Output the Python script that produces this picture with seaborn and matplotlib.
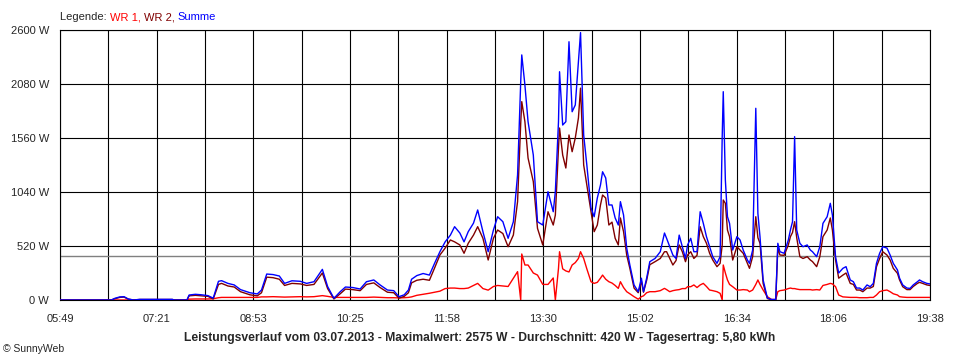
import numpy as np
import pandas as pd
import matplotlib
matplotlib.use("Agg")
import matplotlib.pyplot as plt
import seaborn as sns

zeit = [
    "05:49", "06:38", "06:41", "06:46", "06:50", "06:54", "06:59", "07:05", "07:36", "07:38",
    "07:50", "07:52", "07:58", "08:04", "08:10", "08:15", "08:20", "08:23", "08:29", "08:35",
    "08:41", "08:50", "08:57", "09:01", "09:06", "09:12", "09:18", "09:23", "09:30", "09:38",
    "09:44", "09:51", "09:59", "10:04", "10:10", "10:16", "10:21", "10:28", "10:35", "10:41",
    "10:48", "10:54", "11:01", "11:07", "11:12", "11:17", "11:21", "11:24", "11:29", "11:35",
    "11:41", "11:46", "11:51", "11:56", "12:01", "12:05", "12:10", "12:14", "12:18", "12:23",
    "12:27", "12:32", "12:37", "12:42", "12:46", "12:51", "12:56", "13:01", "13:05", "13:08",
    "13:09", "13:12", "13:15", "13:20", "13:24", "13:29", "13:34", "13:39", "13:41", "13:44",
    "13:45", "13:48", "13:51", "13:54", "13:57", "14:00", "14:03", "14:05", "14:08", "14:11",
    "14:15", "14:18", "14:21", "14:24", "14:26", "14:29", "14:32", "14:35", "14:38", "14:41",
    "14:43", "14:46", "14:49", "14:52", "14:56", "15:00", "15:03", "15:05", "15:08", "15:11",
    "15:16", "15:21", "15:25", "15:27", "15:30", "15:33", "15:36", "15:39", "15:42", "15:45",
    "15:47", "15:50", "15:53", "15:56", "15:59", "16:02", "16:05", "16:08", "16:11", "16:15",
    "16:18", "16:20", "16:21", "16:23", "16:25", "16:27", "16:30", "16:34", "16:37", "16:40",
    "16:44", "16:46", "16:49", "16:52", "16:54", "16:56", "16:59", "17:03", "17:07", "17:11",
    "17:13", "17:15", "17:19", "17:23", "17:25", "17:27", "17:29", "17:31", "17:34", "17:37",
    "17:41", "17:44", "17:46", "17:50", "17:53", "17:56", "18:00", "18:03", "18:05", "18:08",
    "18:11", "18:15", "18:18", "18:22", "18:25", "18:28", "18:31", "18:34", "18:38", "18:41",
    "18:44", "18:47", "18:50", "18:53", "18:57", "19:00", "19:03", "19:07", "19:09", "19:12",
    "19:16", "19:19", "19:22", "19:26", "19:28", "19:31", "19:35", "19:38",
]
wr1 = [
    0, 0, 0, 0, 0, 0, 0, 0, 0, 0,
    0, 8, 10, 10, 10, 12, 22, 25, 25, 25,
    25, 25, 25, 30, 30, 32, 30, 28, 30, 32,
    30, 32, 42, 35, 25, 25, 25, 25, 25, 25,
    28, 25, 22, 22, 20, 22, 25, 30, 45, 55,
    65, 75, 85, 110, 115, 115, 110, 110, 115, 140,
    160, 110, 95, 130, 140, 135, 130, 210, 273, 0,
    443, 337, 337, 260, 240, 150, 150, 212, 0, 305,
    465, 300, 280, 270, 337, 360, 400, 465, 400, 300,
    176, 160, 170, 210, 240, 200, 176, 163, 140, 112,
    176, 120, 80, 60, 32, 8, 32, 40, 70, 80,
    80, 90, 112, 100, 80, 90, 96, 100, 110, 110,
    128, 128, 145, 120, 145, 160, 130, 96, 90, 80,
    64, 0, 337, 260, 193, 150, 128, 96, 96, 100,
    96, 80, 96, 150, 193, 150, 96, 32, 5, 5,
    80, 90, 96, 110, 115, 110, 110, 105, 100, 100,
    100, 100, 96, 100, 96, 140, 150, 160, 155, 128,
    48, 30, 28, 25, 25, 25, 22, 22, 22, 25,
    25, 48, 80, 90, 96, 80, 60, 48, 32, 28,
    25, 25, 25, 25, 25, 25, 25, 25,
]
wr2 = [
    0, 0, 12, 25, 28, 8, 0, 5, 5, 0,
    0, 40, 45, 40, 35, 10, 150, 160, 135, 125,
    80, 50, 40, 70, 220, 215, 200, 140, 160, 155,
    140, 150, 260, 110, 10, 60, 105, 100, 90, 150,
    165, 120, 75, 70, 18, 35, 70, 165, 190, 200,
    190, 310, 433, 500, 578, 560, 530, 450, 546, 625,
    706, 594, 385, 594, 674, 640, 513, 626, 947, 1700,
    1910, 1717, 1367, 1140, 690, 530, 850, 722, 818, 1464,
    1656, 1396, 1271, 1589, 1428, 1560, 1753, 2040, 1300, 1107,
    850, 658, 722, 915, 1011, 982, 722, 750, 594, 530,
    790, 658, 433, 305, 115, 70, 180, 75, 190, 340,
    369, 400, 465, 465, 400, 337, 380, 530, 465, 369,
    433, 465, 400, 430, 706, 610, 546, 450, 385, 321,
    353, 530, 963, 931, 674, 610, 385, 513, 481, 450,
    353, 305, 417, 802, 600, 546, 160, 15, 0, 0,
    500, 433, 430, 530, 610, 650, 754, 600, 417, 400,
    417, 385, 370, 321, 417, 610, 674, 790, 674, 385,
    210, 240, 260, 160, 150, 96, 96, 80, 115, 115,
    130, 320, 400, 465, 433, 385, 305, 257, 193, 128,
    100, 100, 130, 160, 170, 160, 145, 140,
]
summe = [
    0, 0, 15, 30, 32, 10, 0, 6, 6, 0,
    0, 48, 55, 50, 42, 18, 180, 186, 160, 145,
    100, 70, 58, 96, 250, 245, 231, 160, 185, 180,
    160, 176, 295, 130, 16, 80, 125, 120, 106, 176,
    193, 145, 96, 90, 32, 50, 96, 200, 235, 255,
    240, 355, 465, 560, 625, 706, 645, 560, 658, 740,
    867, 658, 465, 674, 802, 754, 594, 754, 1204, 2100,
    2360, 2070, 1717, 1396, 754, 722, 1043, 850, 1043, 1717,
    2198, 1685, 1717, 2487, 1813, 1878, 2295, 2575, 1589, 1300,
    886, 802, 982, 1107, 1235, 1175, 915, 915, 790, 722,
    947, 818, 500, 337, 145, 80, 210, 80, 210, 369,
    400, 465, 645, 594, 513, 433, 400, 625, 513, 400,
    530, 594, 465, 465, 850, 738, 610, 513, 417, 353,
    417, 1573, 2006, 1155, 802, 738, 481, 610, 578, 481,
    385, 353, 481, 1846, 834, 610, 193, 20, 5, 5,
    546, 465, 450, 578, 674, 754, 1573, 674, 546, 513,
    530, 481, 465, 417, 513, 738, 802, 931, 818, 417,
    260, 305, 321, 193, 176, 115, 115, 96, 145, 128,
    160, 353, 450, 513, 500, 433, 353, 289, 210, 145,
    115, 112, 145, 176, 193, 176, 160, 155,
]
durchschnitt = 420
tagesertrag = "5,80"
x_labels = ["05:49", "07:21", "08:53", "10:25", "11:58", "13:30", "15:02", "16:34", "18:06", "19:38"]
serien = ["WR 1", "WR 2", "Summe"]
farben = {"WR 1": "#ff0000", "WR 2": "#800000", "Summe": "#0000ff"}

# --- DataFrame ---
df = pd.DataFrame({"Zeit": zeit, "WR 1": wr1, "WR 2": wr2, "Summe": summe})
t = pd.to_datetime(df["Zeit"], format="%H:%M")
df["Minute"] = t.dt.hour * 60 + t.dt.minute
long = df.melt(id_vars="Minute", value_vars=serien, var_name="Serie", value_name="Leistung")

sns.set_style("white")
plt.rcParams['font.family'] = ['Liberation Sans', 'DejaVu Sans']

fig = plt.figure(figsize=(9.6, 3.6), dpi=100)
ax = fig.add_axes([60 / 960, 60 / 360, 870 / 960, 270 / 360])

sns.lineplot(data=long, x="Minute", y="Leistung", hue="Serie", hue_order=serien,
             palette=farben, linewidth=1.0, estimator=None, legend=False, ax=ax, zorder=3)

# Durchschnittslinie
ax.axhline(durchschnitt, color="#808080", linewidth=1.0, zorder=2)

x0, x1 = 349, 1178
ax.set_xlim(x0, x1)
ax.set_ylim(0, 2600)
xt = np.linspace(x0, x1, 19)
ax.set_xticks(xt)
ax.set_xticklabels([x_labels[i // 2] if i % 2 == 0 else "" for i in range(19)])
yt = np.arange(0, 2601, 520)
ax.set_yticks(yt)
ax.set_yticklabels([f"{v} W" for v in yt])
ax.set_xlabel("")
ax.set_ylabel("")

ax.set_axisbelow(True)
ax.grid(True, color="black", linewidth=0.8)
ax.tick_params(direction="out", length=5, width=0.8, color="black", labelsize=8, pad=3)
ax.tick_params(axis="x", pad=5)
for s in ax.spines.values():
    s.set_color("black")
    s.set_linewidth(0.8)

# Legende als farbiger Text
txt = fig.text(60 / 960, 1 - 17 / 360, "Legende: ", fontsize=8, va="center", ha="left")
for name, sep in zip(serien, [", ", ", ", ""]):
    txt = ax.annotate(name + sep, xy=(1, 0), xycoords=txt, va="bottom", ha="left",
                      color=farben[name], fontsize=8)

titel = (f"Leistungsverlauf vom 03.07.2013 - Maximalwert: {max(summe)} W - "
         f"Durchschnitt: {durchschnitt} W - Tagesertrag: {tagesertrag} kWh")
fig.text(0.5, 1 - 338 / 360, titel, ha="center", va="center", fontsize=8.7, fontweight="bold")
fig.text(3 / 960, 1 - 349 / 360, "© SunnyWeb", ha="left", va="center", fontsize=7.5)

fig.savefig("out.png", dpi=100, facecolor="white")
